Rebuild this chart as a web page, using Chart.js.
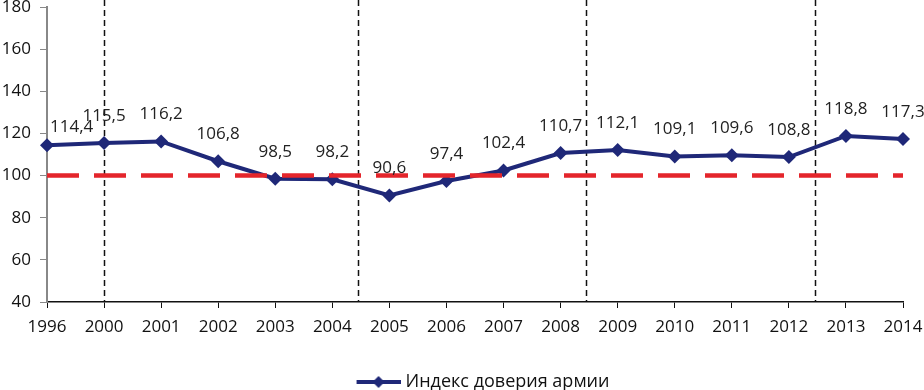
<!DOCTYPE html>
<html>
<head>
<meta charset="utf-8">
<script src="https://cdn.jsdelivr.net/npm/chart.js@4.4.0/dist/chart.umd.min.js"></script>
<style>
  html, body { margin: 0; padding: 0; background: #fff; }
  #wrap { width: 924px; height: 390px; }
</style>
</head>
<body>
<div id="wrap"><canvas id="armyChart"></canvas></div>
<script>
const years = ["1996", "2000", "2001", "2002", "2003", "2004", "2005", "2006", "2007", "2008", "2009", "2010", "2011", "2012", "2013", "2014"];
const trustIndex = [114.4, 115.5, 116.2, 106.8, 98.5, 98.2, 90.6, 97.4, 102.4, 110.7, 112.1, 109.1, 109.6, 108.8, 118.8, 117.3];
const baseline = years.map(() => 100);
// period separators, in category units (between years)
const separators = [1, 5.45, 9.45, 13.45];

const navy = "#1f2878";
const red = "#e4252b";
const font = "'Open Sans', sans-serif";

// legend marker: line with diamond (left part left blank so the legend sits a bit right)
const LEAD = 46;
const marker = document.createElement("canvas");
marker.width = 44 + LEAD;
marker.height = 14;
(function () {
  const c = marker.getContext("2d");
  c.strokeStyle = navy;
  c.lineWidth = 4;
  c.beginPath();
  c.moveTo(LEAD, 7);
  c.lineTo(LEAD + 44, 7);
  c.stroke();
  c.fillStyle = navy;
  c.beginPath();
  c.moveTo(LEAD + 22, 1);
  c.lineTo(LEAD + 28, 7);
  c.lineTo(LEAD + 22, 13);
  c.lineTo(LEAD + 16, 7);
  c.closePath();
  c.fill();
})();

const separatorPlugin = {
  id: "separators",
  beforeDatasetsDraw(chart) {
    const ctx = chart.ctx;
    const x = chart.scales.x;
    ctx.save();
    ctx.strokeStyle = "#111";
    ctx.lineWidth = 1.5;
    ctx.setLineDash([6, 4]);
    separators.forEach((v) => {
      const px = Math.round(x.getPixelForValue(v)) + 0.5;
      ctx.beginPath();
      ctx.moveTo(px, 0);
      ctx.lineTo(px, chart.chartArea.bottom);
      ctx.stroke();
    });
    ctx.restore();
  },
};

const labelPlugin = {
  id: "valueLabels",
  afterDatasetsDraw(chart) {
    const ctx = chart.ctx;
    const meta = chart.getDatasetMeta(1);
    ctx.save();
    ctx.font = "17px " + font;
    ctx.fillStyle = "#222";
    ctx.textAlign = "center";
    ctx.textBaseline = "middle";
    meta.data.forEach((pt, i) => {
      const text = trustIndex[i].toFixed(1).replace(".", ",");
      const w = ctx.measureText(text).width;
      let x = pt.x;
      if (x - w / 2 < chart.chartArea.left + 3) x = chart.chartArea.left + 3 + w / 2;
      const dy = i === 0 ? 18 : 27;
      ctx.fillText(text, x, pt.y - dy);
    });
    ctx.restore();
  },
};

new Chart(document.getElementById("armyChart").getContext("2d"), {
  type: "line",
  data: {
    labels: years,
    datasets: [
      {
        label: "100",
        data: baseline,
        borderColor: red,
        borderWidth: 4.5,
        borderDash: [32, 15],
        pointRadius: 0,
        fill: false,
      },
      {
        label: "Индекс доверия армии",
        data: trustIndex,
        borderColor: navy,
        backgroundColor: navy,
        borderWidth: 4,
        pointStyle: "rectRot",
        pointRadius: 7,
        pointBorderWidth: 0,
        pointBackgroundColor: navy,
        fill: false,
        tension: 0,
      },
    ],
  },
  options: {
    responsive: true,
    maintainAspectRatio: false,
    animation: false,
    layout: { padding: { top: 0, right: 0, left: 0, bottom: -11 } },
    plugins: {
      tooltip: { enabled: false },
      legend: {
        position: "bottom",
        labels: {
          usePointStyle: true,
          pointStyleWidth: 36 + LEAD,
          boxHeight: 14,
          color: "#111",
          font: { family: font, size: 18 },
          padding: 3,
          filter: (item) => item.datasetIndex === 1,
          generateLabels: (chart) => [
            {
              text: chart.data.datasets[1].label,
              pointStyle: marker,
              datasetIndex: 1,
              lineWidth: 0,
              fontColor: "#111",
            },
          ],
        },
      },
    },
    scales: {
      x: {
        offset: false,
        afterFit: (s) => {
          s.height = 68;
          s.paddingRight = 21;
          s.paddingLeft = 0;
        },
        grid: { display: true, drawOnChartArea: false, drawTicks: true, tickLength: 6, color: "#111" },
        border: { display: true, color: "#111", width: 1.5 },
        ticks: {
          color: "#111",
          font: { family: font, size: 17 },
          padding: 9,
          maxRotation: 0,
          autoSkip: false,
        },
      },
      y: {
        min: 40,
        max: 180,
        afterFit: (s) => {
          s.width = 47;
          s.paddingTop = 7;
          s.paddingBottom = 0;
        },
        grid: { display: true, drawOnChartArea: false, drawTicks: true, tickLength: 7, color: "#888" },
        border: { display: true, color: "#888", width: 2 },
        ticks: {
          stepSize: 20,
          color: "#111",
          font: { family: font, size: 17, lineHeight: 0.9 },
          padding: 9,
        },
      },
    },
  },
  plugins: [separatorPlugin, labelPlugin],
});
</script>
</body>
</html>
